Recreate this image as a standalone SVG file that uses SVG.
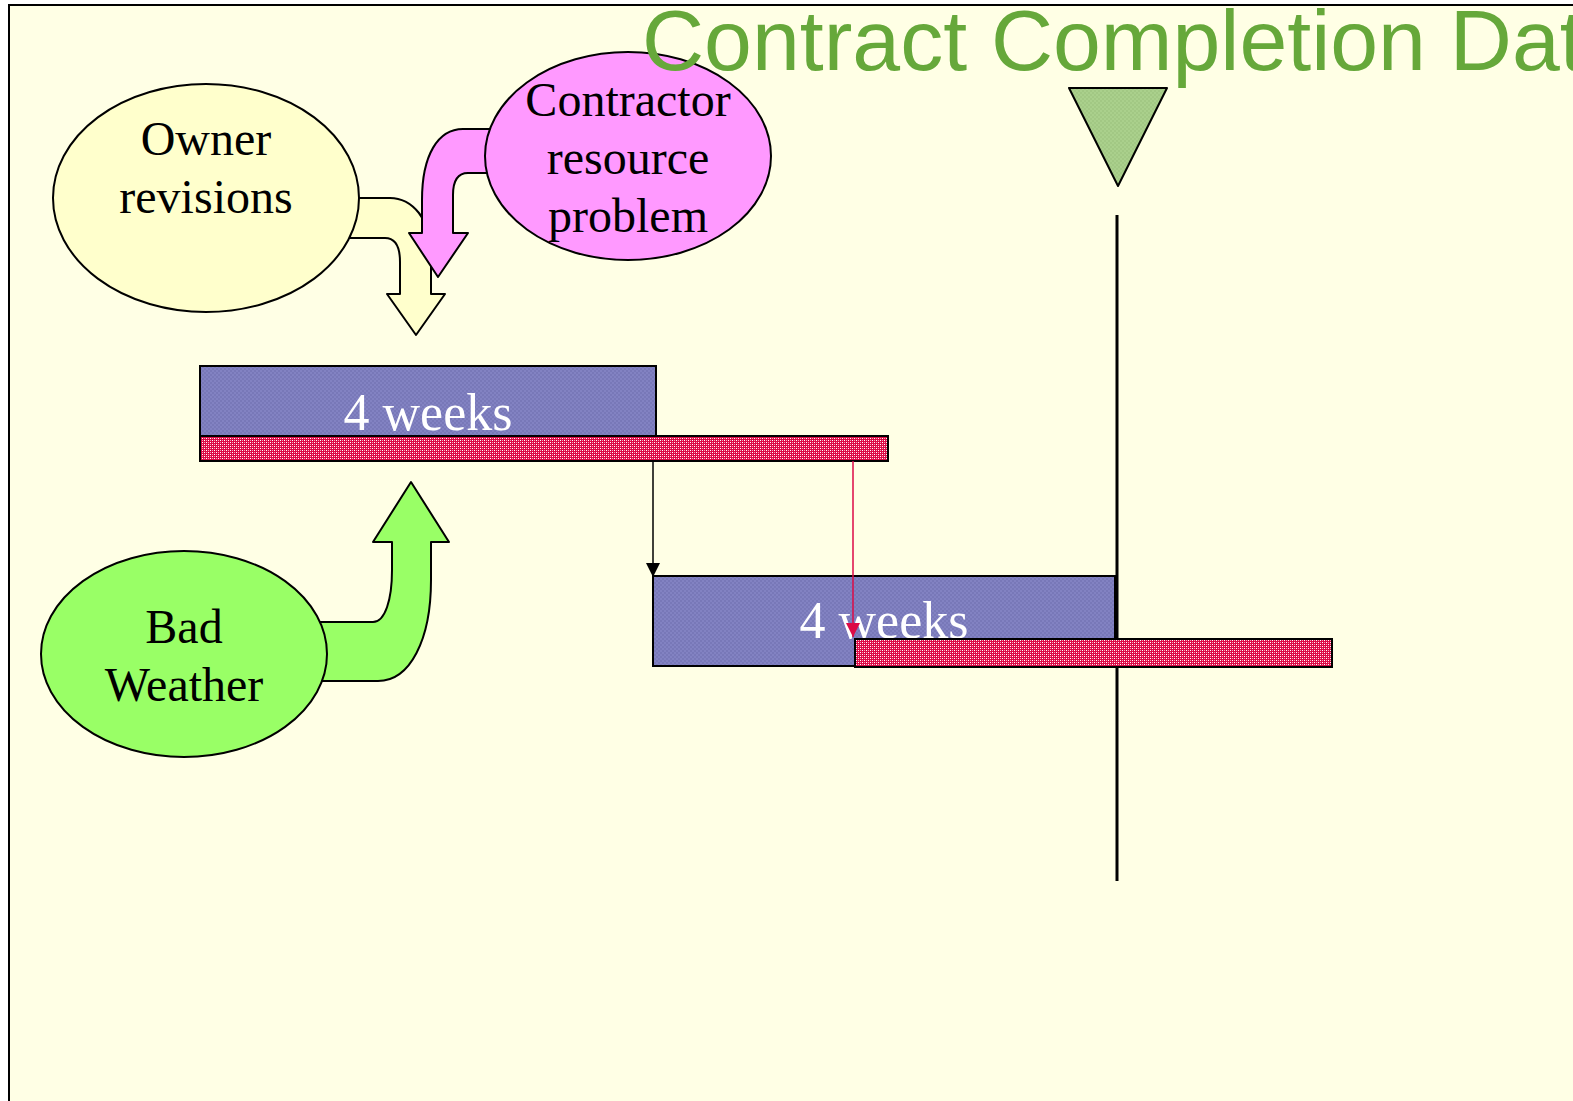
<svg xmlns="http://www.w3.org/2000/svg" width="1573" height="1101" viewBox="0 0 1573 1101">
<defs>
<pattern id="blue" width="4" height="4" patternUnits="userSpaceOnUse">
<rect width="4" height="4" fill="#8282C2"/>
<rect width="2" height="2" fill="#7878B8"/>
<rect x="2" y="2" width="2" height="2" fill="#7878B8"/>
</pattern>
<pattern id="red" width="4" height="4" patternUnits="userSpaceOnUse">
<rect width="4" height="4" fill="#DC0A46"/>
<rect x="0" y="0" width="1" height="1" fill="#FFFFFF"/>
<rect x="2" y="0" width="1" height="1" fill="#F5A0B8"/>
<rect x="0" y="2" width="1" height="1" fill="#F5A0B8"/>
<rect x="2" y="2" width="1" height="1" fill="#FFFFFF"/>
</pattern>
<pattern id="green" width="4" height="4" patternUnits="userSpaceOnUse">
<rect width="4" height="4" fill="#AAD08C"/>
<rect width="2" height="2" fill="#A2C884"/>
<rect x="2" y="2" width="2" height="2" fill="#A2C884"/>
</pattern>
<marker id="ab" viewBox="0 0 10 10" refX="10" refY="5" markerWidth="14" markerHeight="14" markerUnits="userSpaceOnUse" orient="auto">
<path d="M0,0 L10,5 L0,10 Z" fill="#000"/>
</marker>
<marker id="ar" viewBox="0 0 10 10" refX="10" refY="5" markerWidth="14" markerHeight="14" markerUnits="userSpaceOnUse" orient="auto">
<path d="M0,0 L10,5 L0,10 Z" fill="#DC0A46"/>
</marker>
</defs>
<style>
.sh{stroke:#000;stroke-width:2;stroke-linejoin:round}
.lbl{font-family:"Liberation Serif","Times New Roman",serif;font-size:48px;fill:#000;text-anchor:middle}
.wk{font-family:"Liberation Serif","Times New Roman",serif;font-size:52px;fill:#FFF;text-anchor:middle}
.bar{stroke:#000;stroke-width:2}
</style>
<rect x="0" y="0" width="1573" height="1101" fill="#FFFFFF"/>
<rect x="9" y="5" width="1580" height="1110" fill="#FFFFE5" stroke="#000" stroke-width="2"/>

<g id="connectors">
<path class="sh" fill="#FFFFCC" d="M352,198 L390,198 C412,198 431,220 431,250 L431,294 L445,294 L416,335 L387,294 L400,294 L400,262 C400,245 395,238 385,238 L350,238 Z"/>
<path class="sh" fill="#FF99FF" d="M495,129 L463,129 C438,129 422,155 422,200 L422,233 L409,233 L438,277 L468,233 L453,233 L453,195 C453,180 458,173 468,173 L495,173 Z"/>
<path class="sh" fill="#99FF66" d="M318,622 L373,622 C385,622 392,600 392,570 L392,542 L373,542 L411,482 L449,542 L431,542 L431,580 C431,640 410,681 378,681 L318,681 Z"/>
<line x1="653" y1="461" x2="653" y2="577" stroke="#000" stroke-width="1.5" marker-end="url(#ab)"/>
<line x1="1117" y1="215" x2="1117" y2="881" stroke="#000" stroke-width="3"/>
</g>

<g id="owner">
<ellipse cx="206" cy="198" rx="153" ry="114" fill="#FFFFCC" class="sh"/>
<text class="lbl" x="206" y="155">Owner</text>
<text class="lbl" x="206" y="213">revisions</text>
</g>

<g id="contractor">
<ellipse cx="628" cy="156" rx="143" ry="104" fill="#FF99FF" class="sh"/>
<text class="lbl" x="628" y="116">Contractor</text>
<text class="lbl" x="628" y="174">resource</text>
<text class="lbl" x="628" y="232">problem</text>
</g>

<g id="weather">
<ellipse cx="184" cy="654" rx="143" ry="103" fill="#99FF66" class="sh"/>
<text class="lbl" x="184" y="643">Bad</text>
<text class="lbl" x="184" y="701">Weather</text>
</g>

<g id="task1">
<rect class="bar" x="200" y="366" width="456" height="70" fill="url(#blue)"/>
<text class="wk" x="428" y="430">4 weeks</text>
</g>
<g id="delay1">
<rect class="bar" x="200" y="436" width="688" height="25" fill="url(#red)"/>
</g>

<g id="task2">
<rect class="bar" x="653" y="576" width="462" height="90" fill="url(#blue)"/>
<text class="wk" x="884" y="638">4 weeks</text>
</g>
<g id="delay2">
<rect class="bar" x="855" y="639" width="477" height="28" fill="url(#red)"/>
</g>

<g id="red-link">
<line x1="853" y1="461" x2="853" y2="637" stroke="#DC0A46" stroke-width="1.5" marker-end="url(#ar)"/>
</g>

<g id="milestone">
<polygon points="1069,88 1167,88 1118,186" fill="url(#green)" class="sh"/>
</g>

<g id="title">
<text x="642" y="70" font-family="'Liberation Sans',Arial,sans-serif" font-size="86" fill="#66A83A">Contract Completion Date</text>
</g>
</svg>
